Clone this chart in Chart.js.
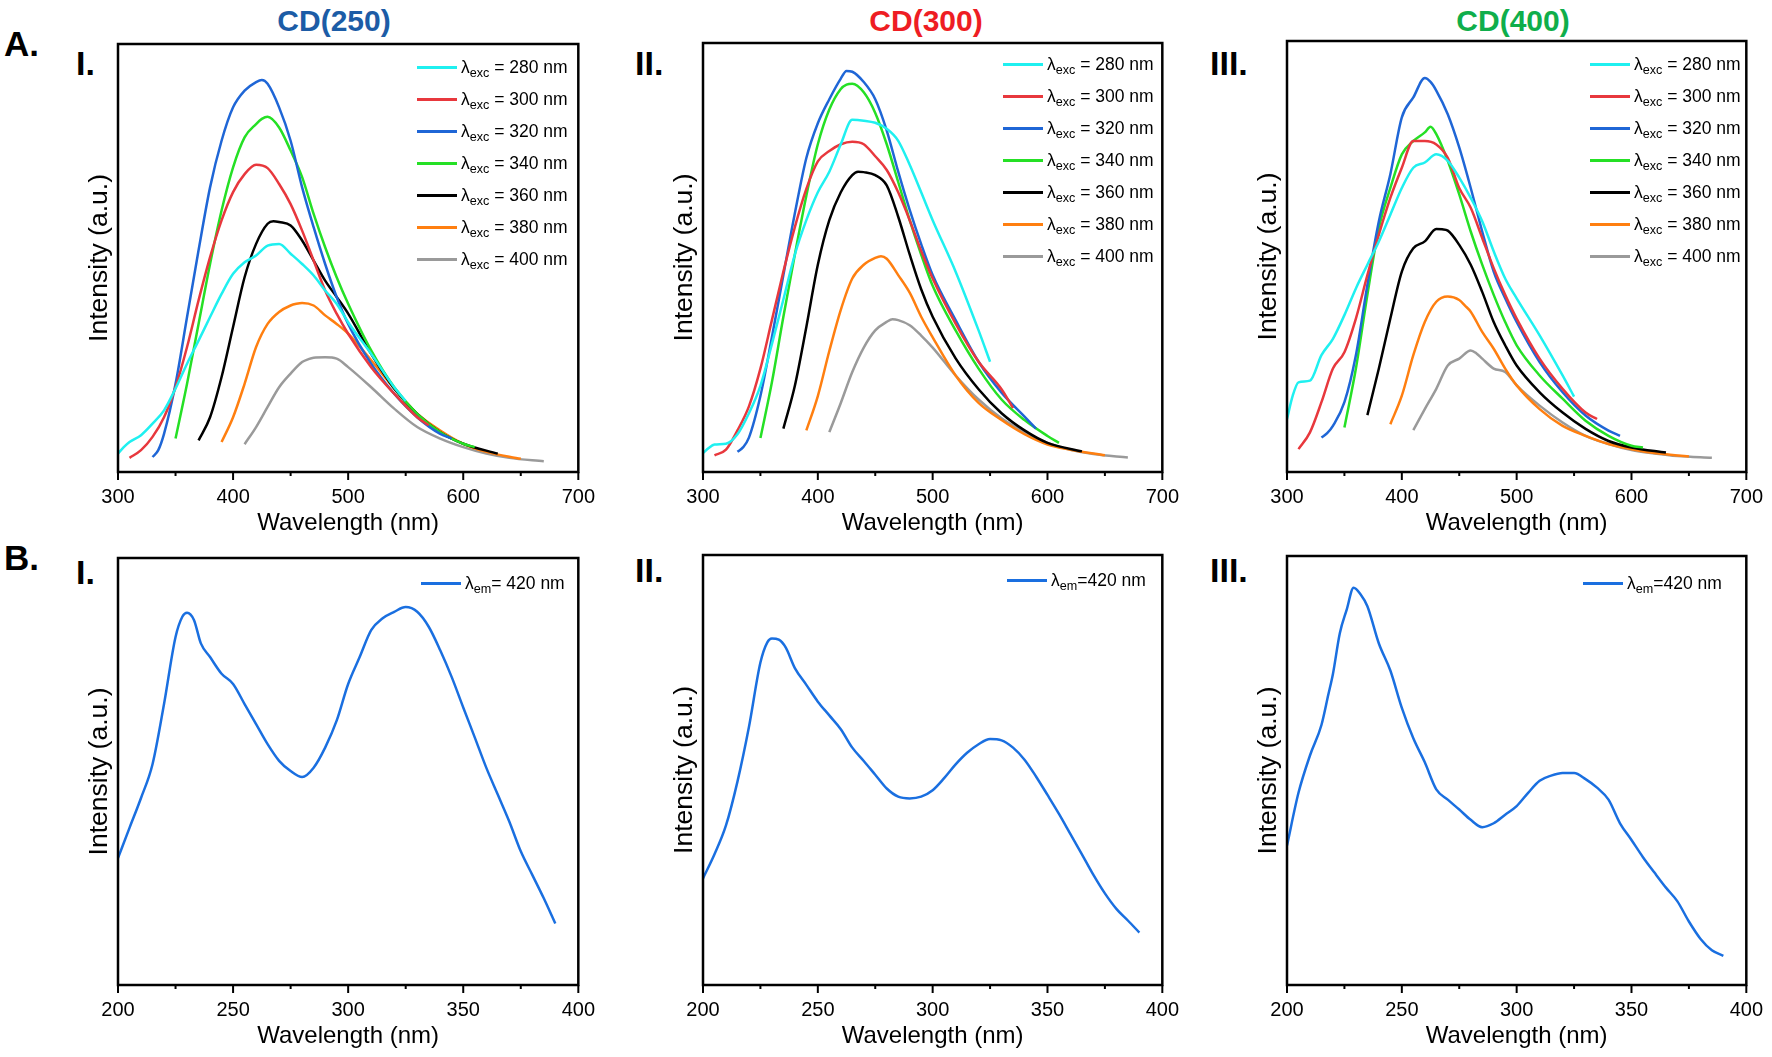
<!DOCTYPE html>
<html lang="en">
<head>
<meta charset="UTF-8">
<title>CD photoluminescence spectra</title>
<script src="https://cdn.jsdelivr.net/npm/chart.js"></script>
<style>
  html, body { margin: 0; padding: 0; background: #fff; }
  body { position: relative; width: 1772px; height: 1057px; overflow: hidden;
         font-family: 'Liberation Sans', Arial, Helvetica, sans-serif; color: #000; }
  .panel { position: absolute; }
  .tag { position: absolute; font-weight: bold; line-height: 1; transform: translateY(-50%); }
  .cd { position: absolute; font-weight: bold; font-size: 30px; line-height: 1; transform: translate(-50%, -50%); }
  .legend { position: absolute; font-size: 17.5px; }
  .legend .row { display: flex; align-items: center; height: 32px; white-space: nowrap; }
  .legend .sw { width: 40px; height: 3px; margin-right: 4px; }
  .legend sub { font-size: 0.72em; vertical-align: -0.35em; line-height: 0; }
</style>
</head>
<body>
<div class="cd" style="left:334px; top:21px; color:#1c5ca6">CD(250)</div>
<div class="cd" style="left:926px; top:21px; color:#ee1d23">CD(300)</div>
<div class="cd" style="left:1513px; top:21px; color:#0fae4b">CD(400)</div>

<div class="tag" style="left:4px; top:43px; font-size:35px">A.</div>
<div class="tag" style="left:4px; top:557px; font-size:35px">B.</div>
<div class="tag" style="left:76px; top:63px; font-size:34px">I.</div>
<div class="tag" style="left:635px; top:63px; font-size:34px">II.</div>
<div class="tag" style="left:1210px; top:63px; font-size:34px">III.</div>
<div class="tag" style="left:76px; top:572px; font-size:34px">I.</div>
<div class="tag" style="left:635px; top:570px; font-size:34px">II.</div>
<div class="tag" style="left:1210px; top:570px; font-size:34px">III.</div>

<script>
// excitation wavelengths (nm) used in row A
const excWavelengths = [280, 300, 320, 340, 360, 380, 400];

// emission wavelength grids (nm), one per excitation
const wl280 = [300,305,310,320,330,340,350,360,370,380,390,400,410,420,430,440,450,460,470,480,490,500,520,540,550];
const wl300 = [310,320,330,340,350,360,370,380,390,400,410,420,430,440,450,460,470,480,490,500,520,540,560,570];
const wl320 = [330,335,340,350,360,370,380,390,400,410,420,425,430,440,450,460,470,480,490,500,520,540,560,580,590];
const wl340 = [350,360,370,380,390,400,410,420,425,430,440,450,460,470,480,490,500,520,540,560,580,600,610];
const wl360 = [370,380,390,400,410,420,430,435,440,450,460,470,480,490,500,520,540,560,580,600,630];
const wl380 = [390,400,410,420,430,440,450,455,460,470,480,490,500,520,540,560,580,600,620,650];
const wl400 = [410,420,430,440,450,460,465,470,480,490,500,520,540,560,580,600,620,640,670];

// emission intensities (a.u.) - CD(250)
const cd250_280 = [4.3,5.8,7.0,8.6,11.3,14.4,19.5,25.3,30.7,36.2,41.6,46.3,49.0,50.6,52.9,53.3,51.0,48.6,45.9,42.4,39.3,35.0,27.6,19.8,16.6];
const cd250_300 = [3.3,5.1,8.2,12.8,19.8,29.2,40.1,50.2,58.8,65.4,69.6,71.8,71.0,67.3,62.6,56.4,49.4,42.4,37.0,32.3,24.5,18.3,12.8,10.9];
const cd250_320 = [3.5,5.1,8.9,20.6,36.2,51.8,66.5,77.4,85.2,89.1,91.1,91.6,90.7,85.2,77.4,66.5,57.2,48.6,40.9,34.6,25.3,18.3,12.8,8.9,7.8];
const cd250_340 = [7.8,20.6,34.6,48.6,61.1,71.2,78.2,81.3,82.5,83.0,80.5,75.1,68.9,60.3,52.5,45.5,39.3,28.4,19.8,13.6,9.3,6.6,5.8];
const cd250_360 = [7.4,12.8,22.2,33.9,45.5,53.3,58.0,58.6,58.4,57.6,54.1,49.4,44.7,40.9,37.0,27.6,19.5,13.6,9.3,6.6,4.3];
const cd250_380 = [7.0,12.8,20.6,29.2,34.6,37.4,38.9,39.3,39.5,38.9,36.6,34.6,32.3,26.1,19.5,13.6,9.7,6.6,4.7,3.1];
const cd250_400 = [6.5,10.5,15.2,19.8,23.0,25.7,26.3,26.7,26.8,26.5,24.5,19.8,14.8,10.5,7.8,5.8,4.3,3.3,2.5];

// emission intensities (a.u.) - CD(300)
const cd300_280 = [4.4,5.6,6.4,6.6,8.8,13.7,20.1,29.8,40.2,50.7,58.7,65.2,70.0,76.4,82.1,81.9,81.4,80.0,77.2,71.6,65.2,58.7,46.7,33.0,25.7];
const cd300_300 = [3.9,5.2,9.7,15.3,24.1,35.4,46.7,57.1,66.0,72.4,74.8,76.4,77.0,76.4,73.6,70.4,65.2,58.7,51.5,45.1,34.6,25.7,19.3,14.9];
const cd300_320 = [4.7,5.8,8.0,17.7,31.4,45.9,60.3,73.2,81.3,86.9,91.7,93.5,93.3,90.9,86.9,79.6,70.0,61.1,53.1,45.9,35.4,25.7,18.5,12.9,10.1];
const cd300_340 = [7.9,20.9,36.2,50.7,64.4,76.4,84.5,89.3,90.3,90.5,88.5,83.7,76.4,67.6,58.7,50.7,43.4,33.0,24.1,16.9,12.1,8.4,6.8];
const cd300_360 = [10.1,20.1,33.8,48.3,58.7,65.2,69.2,70.0,69.9,69.2,66.8,59.5,50.7,42.6,36.2,26.5,19.3,13.7,9.7,6.8,4.8];
const cd300_380 = [9.7,17.7,28.2,37.8,45.1,48.3,49.9,50.3,49.7,45.9,41.8,36.2,31.4,22.5,16.1,12.1,8.8,6.4,5.2,3.9];
const cd300_400 = [9.3,16.1,23.3,29.0,33.0,35.0,35.6,35.4,34.2,31.8,29.0,22.5,16.9,12.5,9.3,6.8,5.2,4.2,3.4];

// emission intensities (a.u.) - CD(400)
const cd400_280 = [12.3,17.7,20.8,21.2,27.1,30.9,36.4,42.6,48.1,53.5,59.7,65.9,70.6,71.8,73.7,72.2,68.3,63.6,58.2,51.2,44.9,40.3,31.7,22.4,17.5];
const cd400_300 = [5.3,9.2,16.2,24.0,27.8,35.6,45.7,55.1,63.6,70.6,76.8,76.8,76.0,72.9,65.9,61.3,54.3,47.3,41.1,35.6,26.3,19.3,13.8,12.3];
const cd400_320 = [8.0,9.0,10.7,16.2,27.1,43.4,58.2,69.1,82.3,86.9,91.4,90.5,88.5,83.0,75.3,65.9,55.8,46.5,40.3,34.8,25.5,18.5,13.1,9.6,8.4];
const cd400_340 = [10.3,24.0,41.1,56.6,65.9,73.7,76.8,78.8,80.1,78.4,72.2,64.4,55.8,48.1,41.1,34.8,29.4,22.4,17.0,11.9,8.4,6.1,5.7];
const cd400_360 = [13.2,24.0,35.6,46.5,51.9,53.5,56.4,56.3,56.0,52.7,48.1,41.8,34.8,29.4,24.7,18.5,13.8,10.0,7.2,5.7,4.5];
const cd400_380 = [11.1,17.7,27.1,34.8,39.5,40.7,39.9,38.6,37.2,32.5,28.6,24.0,20.1,14.6,10.7,8.4,6.5,5.3,4.4,3.6];
const cd400_400 = [9.7,14.6,19.3,24.7,26.3,28.2,27.5,26.3,24.0,23.2,20.1,15.4,11.5,8.4,6.5,5.1,4.3,3.7,3.3];

// row B: excitation spectra at emission 420 nm
const wlB = [200,205,210,215,220,225,228,230,233,236,240,245,250,255,260,265,270,275,280,285,290,295,300,305,310,315,320,325,330,335,340,345,350,355,360,365,370,375,380,385,390];
const exB250 = [29.7,36.8,43.8,51.7,65.8,81.5,86.3,87.2,85.5,80.0,76.8,72.9,70.5,65.8,61.1,56.4,52.5,50.1,48.7,50.9,55.6,61.9,70.5,76.8,83.1,85.9,87.4,88.5,87.4,83.9,78.4,72.1,65.0,58.0,50.9,44.6,38.3,31.3,25.8,20.3,14.4];
const exB300 = [24.8,30.4,37.1,47.3,60.0,75.0,79.7,80.6,80.3,78.5,73.7,69.8,65.9,62.7,59.5,55.2,52.1,48.9,45.7,43.8,43.4,43.8,45.3,48.1,51.3,54.0,56.0,57.2,56.9,55.2,52.4,48.5,44.2,39.8,35.1,30.4,25.6,21.3,17.7,15.0,12.2];
const wlB3 = [200,205,210,215,218,220,223,226,229,232,235,240,245,250,255,260,265,270,275,280,285,290,295,300,305,310,315,320,325,330,335,340,345,350,355,360,365,370,375,380,385,390];
const exB400 = [32.5,44.8,53.5,60.6,67.7,72.5,82.0,87.5,92.6,91.1,88.3,79.6,73.3,64.6,57.5,51.9,45.6,43.2,40.9,38.5,36.8,37.7,39.7,41.7,44.8,47.6,48.8,49.4,49.4,48.0,46.0,43.2,37.7,33.8,29.8,26.2,22.7,19.5,14.8,10.8,8.1,6.8];

const excColors = ['#1ff0f0', '#e8383d', '#1f66d6', '#25e025', '#000000', '#ff7f10', '#9a9a9a'];
const bColor = '#1a6fe0';

Chart.defaults.font.family = "'Liberation Sans', Arial, Helvetica, sans-serif";
Chart.defaults.color = '#000';

// frame round the plot area plus outward ticks on the x axis
const frameTicks = {
  id: 'frameTicks',
  afterDraw(chart, args, opts) {
    const { ctx, chartArea: a, scales: { x } } = chart;
    ctx.save();
    ctx.strokeStyle = '#000';
    ctx.lineWidth = 2;
    x.ticks.forEach(t => {
      const px = x.getPixelForValue(t.value);
      const major = Math.abs(t.value % opts.labelStep) < 1e-6;
      ctx.beginPath();
      ctx.moveTo(px, a.bottom);
      ctx.lineTo(px, a.bottom + (major ? 8 : 4));
      ctx.stroke();
    });
    ctx.lineWidth = 2.5;
    ctx.strokeRect(a.left, a.top, a.right - a.left, a.bottom - a.top);
    ctx.restore();
  }
};

const YW = 40, XH = 66, PT = 4, PR = 26;

function toPoints(wl, vals) {
  return wl.map((w, i) => ({ x: w, y: vals[i] }));
}

function makePanel(box, xr, datasets, legend) {
  const [L, T, R, B] = box;
  const w = R - L + YW + PR, h = B - T + PT + XH;
  const wrap = document.createElement('div');
  wrap.className = 'panel';
  wrap.style.left = (L - YW) + 'px';
  wrap.style.top = (T - PT) + 'px';
  const cv = document.createElement('canvas');
  cv.width = w; cv.height = h;
  cv.style.width = w + 'px'; cv.style.height = h + 'px';
  wrap.appendChild(cv);
  document.body.appendChild(wrap);

  const chart = new Chart(cv.getContext('2d'), {
    type: 'line',
    data: { datasets },
    options: {
      responsive: false,
      animation: false,
      layout: { padding: { left: 0, top: PT, right: PR, bottom: 0 } },
      elements: { point: { radius: 0 }, line: { borderWidth: 2.5, tension: 0.35, cubicInterpolationMode: 'monotone' } },
      plugins: { legend: { display: false }, tooltip: { enabled: false }, frameTicks: { labelStep: xr.label } },
      scales: {
        x: {
          type: 'linear', min: xr.min, max: xr.max,
          grid: { display: false, drawTicks: false },
          border: { display: false },
          ticks: { stepSize: xr.step, padding: 13, font: { size: 20 },
                   callback: v => (v % xr.label === 0 ? v : '') },
          title: { display: true, text: 'Wavelength (nm)', font: { size: 24 }, padding: { top: 0, bottom: 0 } },
          afterFit: s => { s.height = XH; }
        },
        y: {
          type: 'linear', min: 0, max: 100,
          grid: { display: false, drawTicks: false },
          border: { display: false },
          ticks: { display: false },
          title: { display: true, text: 'Intensity (a.u.)', font: { size: 26.5 }, padding: { top: 6, bottom: 0 } },
          afterFit: s => { s.width = YW; }
        }
      }
    },
    plugins: [frameTicks]
  });

  // legend built from the chart's own datasets
  const lg = document.createElement('div');
  lg.className = 'legend';
  lg.style.left = legend.left + 'px';
  lg.style.top = legend.top + 'px';
  chart.data.datasets.forEach(ds => {
    const row = document.createElement('div');
    row.className = 'row';
    const sw = document.createElement('div');
    sw.className = 'sw';
    sw.style.background = ds.borderColor;
    const tx = document.createElement('span');
    tx.innerHTML = ds.legendHtml;
    row.appendChild(sw); row.appendChild(tx);
    lg.appendChild(row);
  });
  document.body.appendChild(lg);
  return chart;
}

function emissionSets(series) {
  const grids = [wl280, wl300, wl320, wl340, wl360, wl380, wl400];
  return series.map((vals, i) => ({
    label: 'λexc = ' + excWavelengths[i] + ' nm',
    legendHtml: 'λ<sub>exc</sub> = ' + excWavelengths[i] + ' nm',
    data: toPoints(grids[i], vals),
    borderColor: excColors[i],
    borderWidth: 2.5,
    fill: false
  }));
}

function excitationSet(wl, vals, html) {
  return [{
    label: 'λem = 420 nm',
    legendHtml: html,
    data: toPoints(wl, vals),
    borderColor: bColor,
    borderWidth: 2.5,
    fill: false
  }];
}

const rangeA = { min: 300, max: 700, step: 50, label: 100 };
const rangeB = { min: 200, max: 400, step: 25, label: 50 };

makePanel([118, 44, 582, 472], rangeA,
  emissionSets([cd250_280, cd250_300, cd250_320, cd250_340, cd250_360, cd250_380, cd250_400]),
  { left: 417, top: 51 });
makePanel([703, 43, 1166, 472], rangeA,
  emissionSets([cd300_280, cd300_300, cd300_320, cd300_340, cd300_360, cd300_380, cd300_400]),
  { left: 1003, top: 48 });
makePanel([1287, 41, 1750, 472], rangeA,
  emissionSets([cd400_280, cd400_300, cd400_320, cd400_340, cd400_360, cd400_380, cd400_400]),
  { left: 1590, top: 48 });

makePanel([118, 558, 582, 985], rangeB,
  excitationSet(wlB, exB250, 'λ<sub>em</sub>= 420 nm'), { left: 421, top: 567 });
makePanel([703, 555, 1166, 985], rangeB,
  excitationSet(wlB, exB300, 'λ<sub>em</sub>=420 nm'), { left: 1007, top: 564 });
makePanel([1287, 556, 1750, 985], rangeB,
  excitationSet(wlB3, exB400, 'λ<sub>em</sub>=420 nm'), { left: 1583, top: 567 });
</script>
</body>
</html>
